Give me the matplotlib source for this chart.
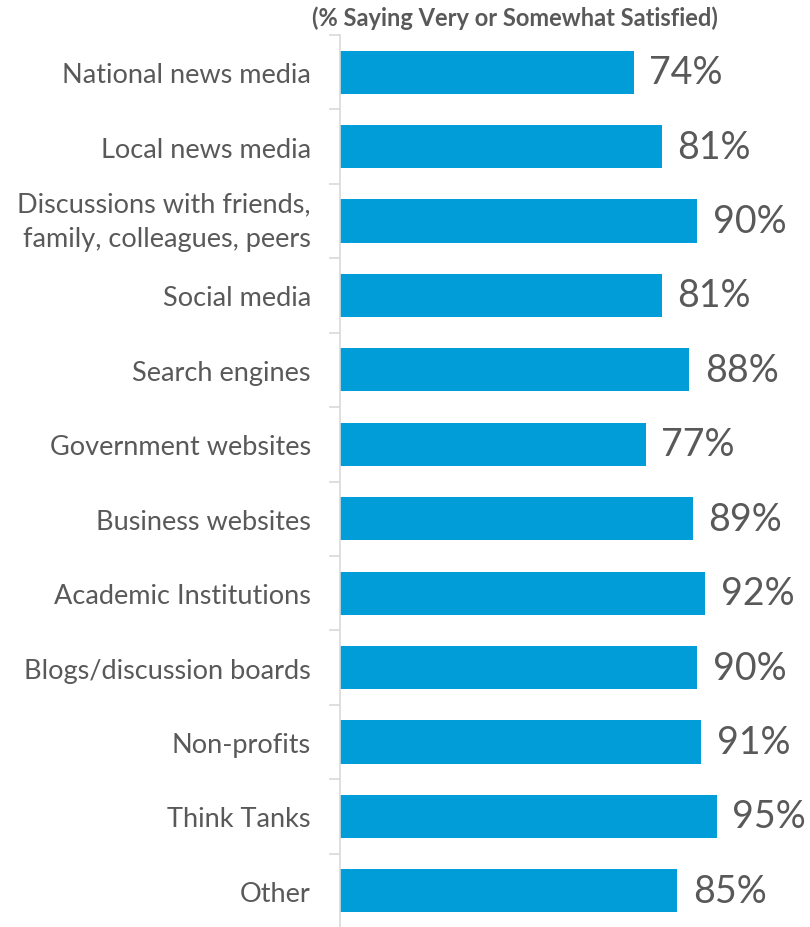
import matplotlib
matplotlib.use("Agg")
import matplotlib.pyplot as plt
import numpy as np

categories = [
    "National news media",
    "Local news media",
    "Discussions with friends,\nfamily, colleagues, peers",
    "Social media",
    "Search engines",
    "Government websites",
    "Business websites",
    "Academic Institutions",
    "Blogs/discussion boards",
    "Non-profits",
    "Think Tanks",
    "Other",
]
values = [74, 81, 90, 81, 88, 77, 89, 92, 90, 91, 95, 85]
title = "(% Saying Very or Somewhat Satisfied)"

BAR = "#009DD9"
TEXT = "#595959"
AXIS = "#D9D9D9"
FONT = ["Lato", "DejaVu Sans"]

W, H = 810, 928
fig = plt.figure(figsize=(W / 100, H / 100), dpi=100)
ax = fig.add_axes([340 / W, -1 / H, 397 / W, (928 - 36 + 1) / H])

n = len(categories)
y = np.arange(n)
ax.barh(y, values, height=0.58, color=BAR, edgecolor="none")
ax.set_xlim(0, 100)
ax.set_ylim(n - 0.5, -0.5)

for yi, v in zip(y, values):
    ax.annotate(f"{v}%", (v, yi), xytext=(11, 0), textcoords="offset points",
                va="center", ha="left", fontsize=27, color=TEXT, family=FONT)

ax.set_yticks(y)
ax.set_yticklabels(categories, fontsize=19.5, color=TEXT, family=FONT,
                   linespacing=1.5)
# multi-line labels are centred on their full block
for lbl in ax.get_yticklabels():
    if "\n" in lbl.get_text():
        lbl.set_verticalalignment("center")
ax.tick_params(axis="y", which="major", length=0, pad=21)
ax.set_yticks(np.arange(n + 1) - 0.5, minor=True)
ax.tick_params(axis="y", which="minor", length=8, color=AXIS, width=1.2)
ax.set_xticks([])

for s in ["top", "right", "bottom"]:
    ax.spines[s].set_visible(False)
ax.spines["left"].set_color(AXIS)
ax.spines["left"].set_linewidth(1.2)

fig.text(515 / W, 1 - 18 / H, title, ha="center", va="center",
         fontsize=17, fontweight="bold", color=TEXT, family=FONT)

fig.savefig("out.png", dpi=100)
